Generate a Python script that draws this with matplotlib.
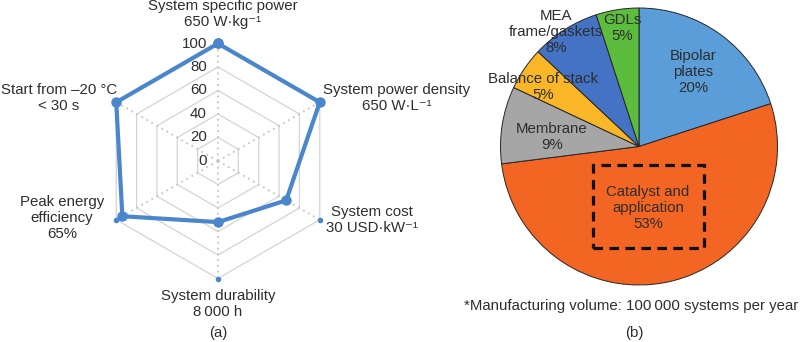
import numpy as np
import matplotlib
matplotlib.use("Agg")
import matplotlib.pyplot as plt
from matplotlib.patches import Rectangle

plt.rcParams['font.family'] = ['Liberation Sans', 'DejaVu Sans']

# ---- (a) radar: performance relative to targets (%) ----
radar_labels = [
    "System specific power\n650 W\u00b7kg\u207b\u00b9",
    "System power density\n650 W\u00b7L\u207b\u00b9",
    "System cost\n30 USD\u00b7kW\u207b\u00b9",
    "System durability\n8\u2009000 h",
    "Peak energy\nefficiency\n65%",
    "Start from \u201320 \u00b0C\n< 30 s",
]
radar_values = [100, 100, 67, 52, 94, 100]
radar_ticks = [0, 20, 40, 60, 80, 100]

# ---- (b) pie: stack cost breakdown (%) ----
pie_labels = ["Bipolar\nplates", "Catalyst and\napplication", "Membrane",
              "Balance of stack", "MEA\nframe/gaskets", "GDLs"]
pie_values = [20, 53, 9, 5, 8, 5]
pie_colors = ["#5a9dd8", "#f26522", "#a6a6a6", "#f9b728", "#4472c4", "#5cbc3d"]

footnote = "*Manufacturing volume: 100\u2009000 systems per year"

W, H = 800, 342
fig = plt.figure(figsize=(W / 100, H / 100), dpi=100)
TXT = "#2e2e2e"
FS = 10.8


def fxy(px, py):
    return px / W, 1 - py / H


def closed(a):
    a = np.asarray(a, dtype=float)
    return np.append(a, a[0])


# radar axes: centre at (218, 161) px, 100 units -> 117.5 px
S = 1.175
cx, cy = 218, 161
ax1 = fig.add_axes([0, 0, 436 / W, 1])
ax1.set_xlim(-cx / S, (436 - cx) / S)
ax1.set_ylim(-(H - cy) / S, cy / S)
ax1.axis("off")

n = len(radar_values)
theta = np.pi / 2 - np.arange(n) * 2 * np.pi / n
ct, st = np.cos(theta), np.sin(theta)

for r in radar_ticks[1:]:
    ax1.plot(closed(r * ct), closed(r * st), color="#d4d4d4", lw=0.9,
             zorder=1)
for c, s in zip(ct, st):
    ax1.plot([0, 100 * c], [0, 100 * s], color="#c4c4c4", lw=1.3,
             ls=(0, (1, 2.2)), zorder=1)
for r in radar_ticks:
    ax1.text(-11 / S, r, str(r), ha="right", va="center", fontsize=FS,
             color=TXT)

blue = "#4a86cc"
ax1.plot(100 * ct, 100 * st, ls="none", marker="o", ms=3, color=blue,
         zorder=2)
v = np.array(radar_values, dtype=float)
ax1.plot(closed(v * ct), closed(v * st), color=blue, lw=3, marker="o",
         ms=6.5, zorder=3)

label_pos = [(223, 14), (397, 98), (372, 220), (218, 304), (62, 218),
             (59, 98)]
for lab, (px, py) in zip(radar_labels, label_pos):
    fig.text(*fxy(px, py), lab, ha="center", va="center", fontsize=FS,
             color=TXT, linespacing=1.15)

fig.text(*fxy(218, 333), "(a)", ha="center", va="center", fontsize=FS,
         color=TXT)

# pie axes: centre at (639, 146.5) px, radius 138.5 px
R = 138.5
px0, py0 = 639, 146.5
ax2 = fig.add_axes([440 / W, 0, 360 / W, 1])
ax2.pie(pie_values, colors=pie_colors, startangle=90, counterclock=False,
        wedgeprops=dict(edgecolor="#262626", linewidth=0.7))
ax2.set_aspect("auto")
ax2.set_xlim((440 - px0) / R, (800 - px0) / R)
ax2.set_ylim(-(H - py0) / R, py0 / R)
ax2.axis("off")


def pxy(px, py):
    return (px - px0) / R, (py0 - py) / R


pie_label_pos = [(693, 72), (648, 208), (552, 137), (543, 87), (556, 32),
                 (622, 28)]
for lab, val, (px, py) in zip(pie_labels, pie_values, pie_label_pos):
    ax2.text(*pxy(px, py), f"{lab}\n{val}%", ha="center", va="center",
             fontsize=FS, color=TXT, linespacing=1.15)

bx0, by0 = pxy(593, 248)
bx1, by1 = pxy(704, 165)
ax2.add_patch(Rectangle((bx0, by0), bx1 - bx0, by1 - by0, fill=False,
                        edgecolor="#111111", lw=2.3, ls=(0, (3, 2))))

fig.text(*fxy(631, 306), footnote, ha="center", va="center", fontsize=FS,
         color=TXT)
fig.text(*fxy(634, 333), "(b)", ha="center", va="center", fontsize=FS,
         color=TXT)

fig.savefig("out.png", dpi=100, facecolor="white")
